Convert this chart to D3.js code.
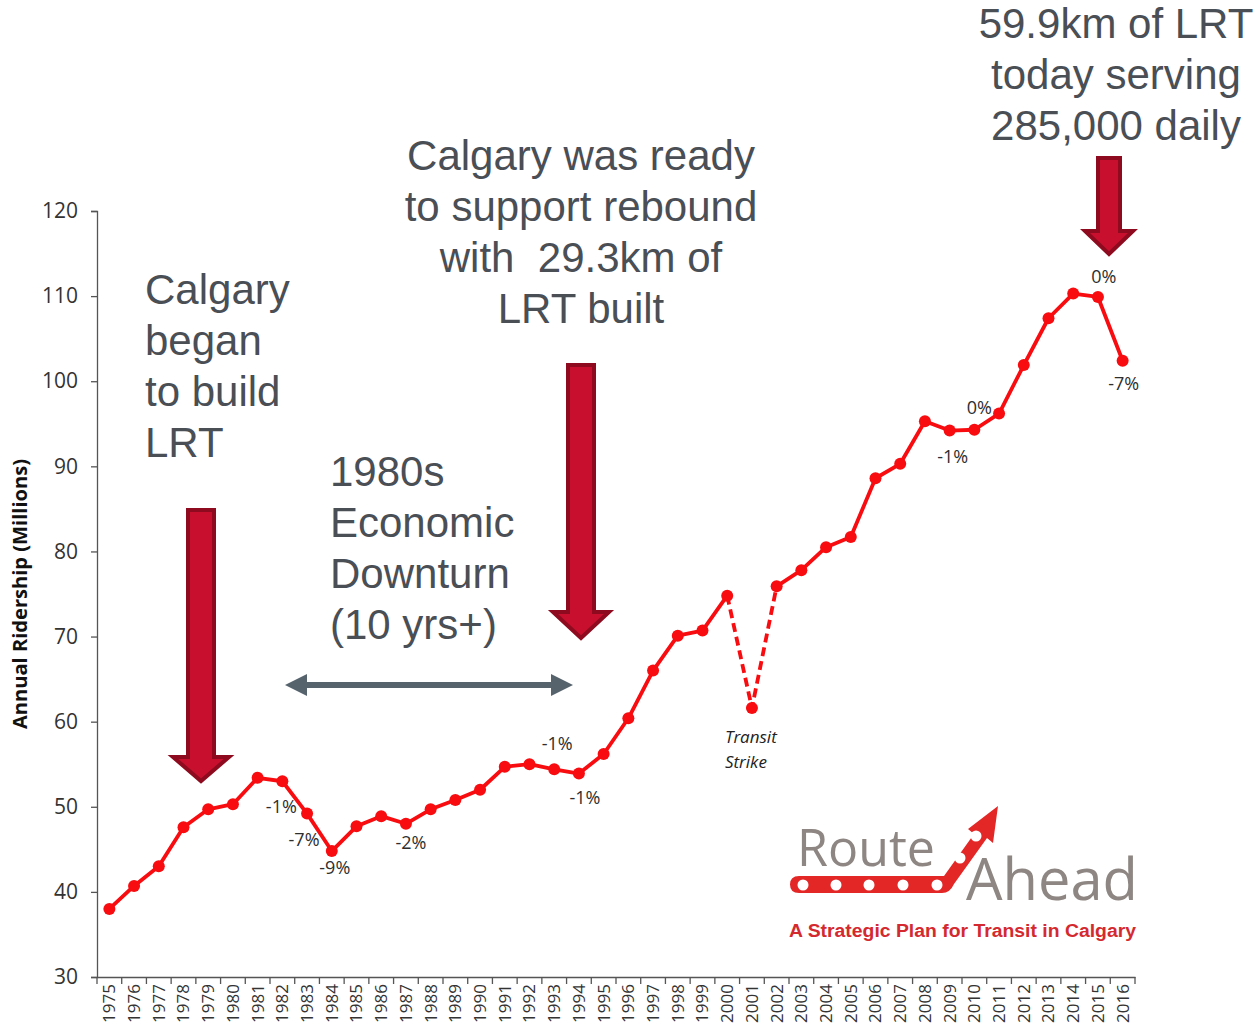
<!DOCTYPE html>
<html>
<head>
<meta charset="utf-8">
<script src="https://cdn.jsdelivr.net/npm/d3@7"></script>
<style>
    body { margin: 0; background: #fff; }
    svg { display: block; }
</style>
</head>
<body>
<div id="chart"></div>
<script>
// Data
const years = [1975, 1976, 1977, 1978, 1979, 1980, 1981, 1982, 1983, 1984,
    1985, 1986, 1987, 1988, 1989, 1990, 1991, 1992, 1993, 1994,
    1995, 1996, 1997, 1998, 1999, 2000, 2001, 2002, 2003, 2004,
    2005, 2006, 2007, 2008, 2009, 2010, 2011, 2012, 2013, 2014,
    2015, 2016];
const ridership = [38.0, 40.7, 43.0, 47.6, 49.7, 50.3, 53.4, 53.0, 49.2, 44.8,
    47.7, 48.9, 48.0, 49.7, 50.8, 52.0, 54.7, 55.0, 54.4, 53.9,
    56.2, 60.4, 66.0, 70.1, 70.7, 74.8, 61.6, 75.9, 77.8, 80.5,
    81.7, 88.6, 90.3, 95.3, 94.2, 94.3, 96.2, 101.9, 107.4, 110.3,
    109.9, 102.4];
const strikeYear = 2001;
const yTicks = [30, 40, 50, 60, 70, 80, 90, 100, 110, 120];
const changeYears = [1982, 1983, 1984, 1987, 1993, 1994, 2009, 2010, 2015, 2016];
const changeLabels = ['-1%', '-7%', '-9%', '-2%', '-1%', '-1%', '-1%', '0%', '0%', '-7%'];

const data = years.map((y, i) => ({ year: y, value: ridership[i] }));

const chart = {
    totalWidth: 1258,
    totalHeight: 1029,
    left: 97,
    right: 1135,
    top: 211,
    bottom: 977
};

const svg = d3.select('#chart')
    .append('svg')
    .attr('width', chart.totalWidth)
    .attr('height', chart.totalHeight);

// Scales
const xScale = d3.scaleBand()
    .domain(years)
    .range([chart.left, chart.right]);
const xc = d => xScale(d) + xScale.bandwidth() / 2;

const yScale = d3.scaleLinear()
    .domain([30, 120])
    .range([chart.bottom, chart.top]);

// Y-axis
const yAxis = svg.append('g')
    .attr('transform', `translate(${chart.left}, 0)`)
    .call(d3.axisLeft(yScale).tickValues(yTicks).tickSize(6).tickPadding(13));
yAxis.select('.domain').attr('stroke', '#555').attr('stroke-width', 1.3);
yAxis.selectAll('.tick line').attr('stroke', '#555').attr('stroke-width', 1.3);
yAxis.selectAll('.tick text')
    .attr('fill', '#333')
    .style('font', '21px "Open Sans", sans-serif');

// X-axis
const xAxis = svg.append('g')
    .attr('transform', `translate(0, ${chart.bottom})`)
    .call(d3.axisBottom(xScale).tickSize(0).tickSizeOuter(0));
xAxis.select('.domain').attr('stroke', '#555').attr('stroke-width', 1.3);
xAxis.selectAll('.tick text')
    .attr('fill', '#333')
    .attr('transform', 'rotate(-90)')
    .attr('text-anchor', 'end')
    .attr('x', -7)
    .attr('y', 0)
    .attr('dy', '0.35em')
    .style('font', '17px "Open Sans", sans-serif');
// band boundary ticks
xAxis.selectAll('.band-tick')
    .data(years.concat([null]))
    .enter()
    .append('line')
    .attr('x1', d => d === null ? chart.right : xScale(d))
    .attr('x2', d => d === null ? chart.right : xScale(d))
    .attr('y1', 0)
    .attr('y2', 7)
    .attr('stroke', '#555')
    .attr('stroke-width', 1.3);

svg.append('text')
    .attr('transform', `translate(27, ${(chart.top + chart.bottom) / 2}) rotate(-90)`)
    .attr('text-anchor', 'middle')
    .attr('textLength', 270)
    .attr('lengthAdjust', 'spacingAndGlyphs')
    .attr('fill', '#111')
    .style('font', 'bold 19px "Open Sans", sans-serif')
    .text('Annual Ridership (Millions)');

// Line
const red = '#f80c0f';
const line = d3.line()
    .x(d => xc(d.year))
    .y(d => yScale(d.value));

svg.append('path')
    .datum(data)
    .attr('fill', 'none')
    .attr('stroke', red)
    .attr('stroke-width', 3.8)
    .attr('stroke-linejoin', 'round')
    .attr('d', line.defined(d => d.year !== strikeYear));

const strikeData = data.filter(d => Math.abs(d.year - strikeYear) <= 1);
svg.append('path')
    .datum(strikeData)
    .attr('fill', 'none')
    .attr('stroke', red)
    .attr('stroke-width', 3.8)
    .attr('stroke-dasharray', '9,5')
    .attr('d', d3.line().x(d => xc(d.year)).y(d => yScale(d.value)));

svg.append('g')
    .selectAll('circle')
    .data(data)
    .enter()
    .append('circle')
    .attr('cx', d => xc(d.year))
    .attr('cy', d => yScale(d.value))
    .attr('r', 6)
    .attr('fill', red);

// Change labels (offsets from their point)
const labelOffsets = [[-1, 32], [-3, 32], [3, 23], [5, 25], [3, -19], [6, 30], [3, 32], [5, -16], [6, -14], [1, 29]];
svg.append('g')
    .selectAll('text')
    .data(changeYears)
    .enter()
    .append('text')
    .attr('x', (d, i) => xc(d) + labelOffsets[i][0])
    .attr('y', (d, i) => yScale(ridership[years.indexOf(d)]) + labelOffsets[i][1])
    .attr('text-anchor', 'middle')
    .attr('fill', '#2e2e2e')
    .style('font', '18px "Open Sans", sans-serif')
    .text((d, i) => changeLabels[i]);

const strikeY = yScale(ridership[years.indexOf(strikeYear)]);
['Transit', 'Strike'].forEach((t, i) => {
    svg.append('text')
        .attr('x', xc(strikeYear) - 27)
        .attr('y', strikeY + 35 + i * 25)
        .attr('fill', '#222')
        .style('font', 'italic 17px "Open Sans", sans-serif')
        .text(t);
});

// Big annotations
const grayText = '#4a4e55';
function textBlock(lines, x, y, anchor) {
    lines.forEach((t, i) => {
        svg.append('text')
            .attr('x', x)
            .attr('y', y + i * 51)
            .attr('text-anchor', anchor)
            .attr('fill', grayText)
            .style('font', '42px "Liberation Sans", Arial, sans-serif')
            .style('white-space', 'pre')
            .text(t);
    });
}
textBlock(['Calgary was ready', 'to support rebound', 'with  29.3km of', 'LRT built'], 581, 170, 'middle');
textBlock(['59.9km of LRT', 'today serving', '285,000 daily'], 1116, 38, 'middle');
textBlock(['Calgary', 'began', 'to build', 'LRT'], 145, 304, 'start');
textBlock(['1980s', 'Economic', 'Downturn', '(10 yrs+)'], 330, 486, 'start');

// Red down arrows
function downArrow(cx, top, headTop, tip, shaftHalf, headHalf) {
    const pts = [
        [cx - shaftHalf, top], [cx + shaftHalf, top], [cx + shaftHalf, headTop],
        [cx + headHalf, headTop], [cx, tip], [cx - headHalf, headTop], [cx - shaftHalf, headTop]
    ];
    svg.append('polygon')
        .attr('points', pts.map(p => p.join(',')).join(' '))
        .attr('fill', '#c8102e')
        .attr('stroke', '#8e0b1f')
        .attr('stroke-width', 4)
        .attr('stroke-linejoin', 'miter');
}
downArrow(201, 510, 757, 781, 13, 28);
downArrow(581, 365, 612, 638, 13, 28);
downArrow(1109, 158, 231, 254, 11, 24);

// Gray double arrow (1980s downturn)
const dbl = [[285, 685], [307, 674], [307, 682], [551, 682], [551, 674], [573, 685],
    [551, 696], [551, 688], [307, 688], [307, 696]];
svg.append('polygon')
    .attr('points', dbl.map(p => p.join(',')).join(' '))
    .attr('fill', '#56636d');

// Logo
const logo = svg.append('g');
logo.append('text')
    .attr('x', 797).attr('y', 866)
    .attr('textLength', 138).attr('lengthAdjust', 'spacingAndGlyphs')
    .attr('fill', '#8d8682')
    .style('font', '400 52px "Open Sans", sans-serif')
    .text('Route');
logo.append('text')
    .attr('x', 966).attr('y', 900)
    .attr('textLength', 172).attr('lengthAdjust', 'spacingAndGlyphs')
    .attr('fill', '#8d8682')
    .style('font', '400 59px "Open Sans", sans-serif')
    .text('Ahead');
logo.append('path')
    .attr('d', 'M799,876 L944,876 L974,834 L968,829 L998,806 L993,843 L987,838 L954,884 Q950,893 942,893 L799,893 Q790,893 790,884.5 Q790,876 799,876 Z')
    .attr('fill', '#e32726');
[[803, 885], [836, 885], [869, 885], [903, 885], [937, 885], [960, 858], [976, 836]].forEach(p => {
    logo.append('circle')
        .attr('cx', p[0]).attr('cy', p[1]).attr('r', 5.5)
        .attr('fill', '#fff');
});
logo.append('text')
    .attr('x', 789).attr('y', 937)
    .attr('textLength', 347).attr('lengthAdjust', 'spacingAndGlyphs')
    .attr('fill', '#d42a2f')
    .style('font', 'bold 18px "Liberation Sans", Arial, sans-serif')
    .text('A Strategic Plan for Transit in Calgary');
</script>
</body>
</html>
